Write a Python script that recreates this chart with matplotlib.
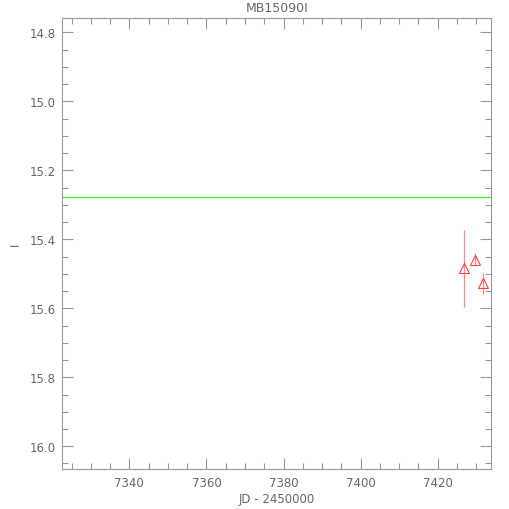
import matplotlib
matplotlib.use("Agg")
import matplotlib.pyplot as plt
from matplotlib.ticker import MultipleLocator

# photometry points (JD - 2450000, I mag, error)
jd = [7426.9, 7429.8, 7431.8]
mag = [15.484, 15.459, 15.528]
err = [0.111, 0.018, 0.031]
baseline = 15.277

title = "MB15090I"
xlabel = "JD - 2450000"
ylabel = "I"

gray = "#999999"
tcol = "#666666"

fig = plt.figure(figsize=(5.1, 5.1), dpi=100)
ax = fig.add_axes([62.3 / 510, 40 / 510, 429 / 510, 450.7 / 510])

ax.axhline(baseline, color="#44ee44", lw=1.0)
ax.errorbar(jd, mag, yerr=err, fmt="none", ecolor="#ff8888", elinewidth=0.9)
ax.plot(jd, mag, "^", mfc="none", mec="#ff4444", ms=7, mew=0.8)

ax.set_xlim(7322.6, 7433.9)
ax.set_ylim(16.066, 14.759)

ax.xaxis.set_major_locator(MultipleLocator(20))
ax.xaxis.set_minor_locator(MultipleLocator(5))
ax.yaxis.set_major_locator(MultipleLocator(0.2))
ax.yaxis.set_minor_locator(MultipleLocator(0.05))
ax.yaxis.set_major_formatter(plt.FormatStrFormatter("%.1f"))

ax.tick_params(which="both", direction="in", top=True, right=True,
               color=gray, labelcolor=tcol, labelsize=8.5)
ax.tick_params(which="major", length=8, width=0.8, pad=5)
ax.tick_params(which="minor", length=4.5, width=0.8)
for s in ax.spines.values():
    s.set_color(gray)
    s.set_linewidth(0.8)

ax.set_title(title, color=tcol, fontsize=9, pad=5)
ax.set_xlabel(xlabel, color=tcol, fontsize=8.5, labelpad=2)
ax.set_ylabel(ylabel, color=tcol, fontsize=8.5)
ax.yaxis.set_label_coords(-40 / 429, 0.5)

fig.savefig("out.png", dpi=100)
